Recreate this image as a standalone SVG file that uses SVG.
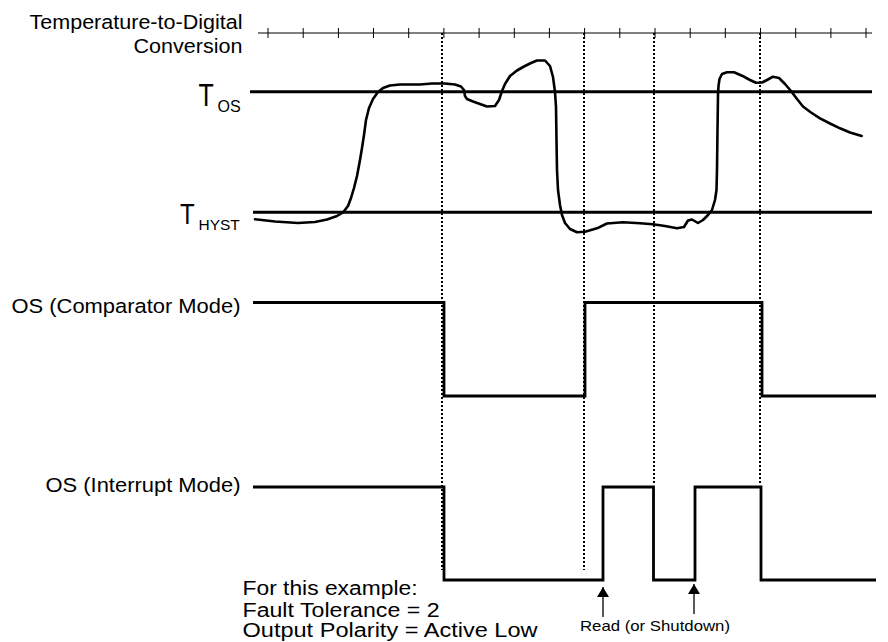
<svg xmlns="http://www.w3.org/2000/svg" width="888" height="642" viewBox="0 0 888 642">
<style>
text{font-family:"Liberation Sans",Arial,sans-serif;fill:#000}
.lbl{font-size:20.5px}
.note{font-size:20px}
.thin{stroke:#000;stroke-width:1;fill:none}
.thick{stroke:#000;stroke-width:3;fill:none}
.sig{stroke:#000;stroke-width:2.8;fill:none;stroke-linejoin:miter}
.curve{stroke:#000;stroke-width:2.6;fill:none;stroke-linejoin:round;stroke-linecap:round}
.dot{stroke:#000;stroke-width:2;stroke-dasharray:2 2;fill:none}
.arr{stroke:#000;stroke-width:1.3;fill:none}
</style>
<defs>
<marker id="ah" viewBox="0 0 10 12" refX="10" refY="6" markerWidth="10" markerHeight="12" markerUnits="userSpaceOnUse" orient="auto">
<path d="M0,0 L10,6 L0,12 z" fill="#000"/>
</marker>
</defs>
<rect width="888" height="642" fill="#fff"/>

<g id="conversion-axis">
<text class="lbl" x="29.5" y="29.3" textLength="213" lengthAdjust="spacingAndGlyphs">Temperature-to-Digital</text>
<text class="lbl" x="133.5" y="53.3" textLength="109" lengthAdjust="spacingAndGlyphs">Conversion</text>
<line class="thin" x1="258" y1="33" x2="872" y2="33"/>
<path class="thin" d="M268,28V38M303.2,28V38M338.4,28V38M373.5,28V38M408.7,28V38M443.9,28V38M479.1,28V38M514.3,28V38M549.4,28V38M584.6,28V38M619.8,28V38M655,28V38M690.2,28V38M725.3,28V38M760.5,28V38M795.7,28V38M830.9,28V38M866,28V38"/>
</g>

<g id="t-os">
<text transform="translate(198.5,106) scale(0.78,1)" font-size="32">T</text>
<text x="217.5" y="111.7" font-size="16">OS</text>
<line class="thick" x1="250" y1="91.7" x2="872" y2="91.7"/>
</g>

<g id="t-hyst">
<text transform="translate(180,224.3) scale(0.8,1)" font-size="30">T</text>
<text x="198.5" y="230" font-size="15.5">HYST</text>
<line class="thick" x1="253" y1="212.3" x2="872" y2="212.3"/>
</g>

<g id="temperature">
<path class="curve" d="M255,219.3 L275,221.5 L298,223 L315,222 L327,219.5 L337,216 L343,212.5 L348,206 L351,198 L354,188 L357,176 L360,160 L362,148 L364,135 L366,120 L369,108 L373,99 L378,92 L383,88 L390,85.5 L400,84.5 L420,84.5 L432,83.5 L445,83.5 L455,84.5 L461,86.5 L464,90 L465,96 L467,99 L473,101.5 L480,104 L487,106.5 L495,106 L499,100 L502,91 L505,84 L510,76 L517,70.5 L524,66.5 L531,63 L537,60.5 L545,60.5 L550,66 L553,77 L555,92 L556,107 L556.5,140 L557,170 L558,190 L560,205 L562,215 L565,223 L570,229 L577,232.3 L585,231.7 L597,228.3 L607,223.5 L623,222.3 L640,223.3 L653,224.3 L665,226 L677,228.3 L684,227 L688,220.5 L692,219.5 L698,223 L703,220 L708,215 L712,210 L715,200 L716.5,190 L717,170 L717.5,130 L718,95 L718.5,86 L719.5,79 L722,74 L727,72.3 L734,72.3 L742,75.7 L750,80 L756,82.7 L762,82.5 L767,80 L773,76.7 L779,78 L785,84 L791,91 L797,99 L803,106.5 L811,112.5 L820,118.3 L830,123.5 L840,128.3 L850,132.5 L861.7,136"/>
</g>

<g id="os-comparator">
<text class="lbl" x="11.5" y="313.3" textLength="229" lengthAdjust="spacingAndGlyphs">OS (Comparator Mode)</text>
<path class="sig" d="M253,302.5 H444 V396 H585 V302.5 H762 V396 H876"/>
</g>

<g id="os-interrupt">
<text class="lbl" x="45.5" y="491.7" textLength="195" lengthAdjust="spacingAndGlyphs">OS (Interrupt Mode)</text>
<path class="sig" d="M253,487 H444 V580 H603 V487 H653.5 V580 H695 V487 H761 V580 H876"/>
</g>

<g id="example-note">
<text class="note" x="242.5" y="595" textLength="175" lengthAdjust="spacingAndGlyphs">For this example:</text>
<text class="note" x="242.5" y="616.7" textLength="197" lengthAdjust="spacingAndGlyphs">Fault Tolerance = 2</text>
<text class="note" x="242.5" y="636.7" textLength="295" lengthAdjust="spacingAndGlyphs">Output Polarity = Active Low</text>
</g>

<g id="read-label">
<text x="580" y="631" font-size="15" textLength="150" lengthAdjust="spacingAndGlyphs">Read (or Shutdown)</text>
</g>

<g id="connectors">
<line class="dot" x1="442" y1="33" x2="442" y2="570"/>
<line class="dot" x1="584" y1="33" x2="584" y2="570"/>
<line class="dot" x1="654" y1="33" x2="654" y2="484"/>
<line class="dot" x1="760" y1="33" x2="760" y2="484"/>
<line class="arr" x1="603" y1="617" x2="603" y2="587" marker-end="url(#ah)"/>
<line class="arr" x1="694" y1="614" x2="694" y2="584" marker-end="url(#ah)"/>
</g>
</svg>
